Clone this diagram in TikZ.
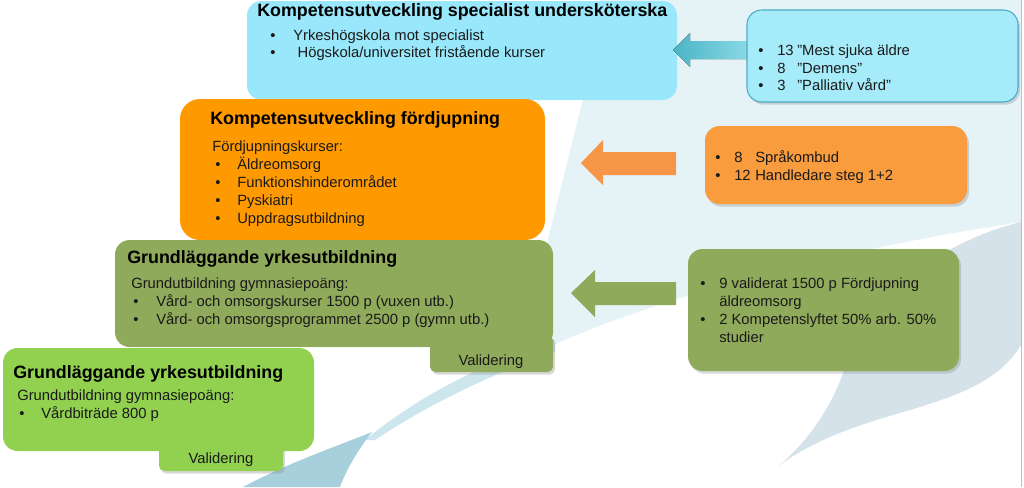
\documentclass[tikz,border=0pt]{standalone}
\usepackage{fontspec}
\setmainfont{Liberation Sans}
\usetikzlibrary{shadows}
\definecolor{specblue}{RGB}{153, 231, 250}
\definecolor{specside}{RGB}{165, 235, 250}
\definecolor{specline}{RGB}{75, 172, 198}
\definecolor{arrowdark}{RGB}{75, 180, 196}
\definecolor{arrowlight}{RGB}{140, 218, 230}
\definecolor{fdorange}{RGB}{255, 153, 0}
\definecolor{fdarrow}{RGB}{247, 150, 70}
\definecolor{fdside}{RGB}{248, 156, 62}
\definecolor{gyolive}{RGB}{143, 170, 90}
\definecolor{gbgreen}{RGB}{146, 208, 80}
\definecolor{bgpale}{RGB}{229, 242, 246}
\definecolor{bgdark}{RGB}{213, 226, 233}
\definecolor{bgband}{RGB}{205, 230, 238}
\definecolor{bgswoosh}{RGB}{168, 208, 220}
\definecolor{textdark}{RGB}{26, 26, 26}
\tikzset{box/.style = {rounded corners = 11pt, inner sep = 0}}
\tikzset{sidebox/.style = {box, drop shadow = {opacity = 0.3, shadow xshift = 1.5pt, shadow yshift = -2pt}}}
\tikzset{tab/.style = {rounded corners = 4pt, inner sep = 0, drop shadow = {opacity = 0.3, shadow xshift = 1.5pt, shadow yshift = -2pt}}}
\tikzset{title/.style = {anchor = base west, inner sep = 0, text = black, font = \bfseries\fontsize{13.4}{16}\selectfont}}
\tikzset{body/.style = {anchor = base west, inner sep = 0, text = textdark, font = \fontsize{11.1}{13.5}\selectfont}}
\newcommand{\itm}[2][17pt]{\makebox[#1][l]{\textbullet}#2}

\begin{document}
\begin{tikzpicture}[x = 0.75pt, y = -0.75pt]
    \useasboundingbox (0, 0) rectangle (1024, 487);
    \fill [white] (0, 0) rectangle (1024, 487);

    % background
    \fill [bgpale] (600, 0) -- (1021, 0) -- (1021, 222) .. controls (900, 240) and (700, 280) .. (553, 345) -- (548, 240) -- (584, 95) -- cycle;
    \fill [bgdark] (1021, 222) .. controls (930, 245) and (870, 300) .. (843, 373) .. controls (830, 410) and (805, 445) .. (777, 467) .. controls (820, 435) and (870, 422) .. (910, 410) .. controls (960, 395) and (1000, 380) .. (1021, 345) -- cycle;
    \fill [bgband] (365, 440) .. controls (420, 395) and (480, 365) .. (555, 340) -- (555, 352) .. controls (480, 378) and (420, 410) .. (375, 440) -- cycle;
    \fill [bgswoosh] (243, 487) .. controls (290, 462) and (340, 445) .. (372, 432) .. controls (358, 450) and (346, 470) .. (340, 487) -- cycle;
    \draw [gray!50] (1021, 0) -- (1021, 487);

    \node [box, fill = specblue, minimum width = 322.5pt, minimum height = 74.25pt] (spec) at (462, 50.5) {};
    \fill [left color = arrowdark, right color = arrowlight] (673, 50) -- (690, 33) -- (690, 41) -- (750, 41) -- (750, 59) -- (690, 59) -- (690, 67) -- cycle;
    \node [sidebox, fill = specside, draw = specline, line width = 0.8pt, minimum width = 203.25pt, minimum height = 69pt] (specr) at (882.5, 56) {};

    \node [box, rounded corners = 15pt, fill = fdorange, minimum width = 273.75pt, minimum height = 105.75pt] (fd) at (362.5, 169.5) {};
    \fill [fdarrow] (581, 163) -- (603, 140) -- (603, 152) -- (676, 152) -- (676, 175) -- (603, 175) -- (603, 185) -- cycle;
    \node [sidebox, fill = fdside, minimum width = 196.5pt, minimum height = 58.5pt] (fdr) at (836, 165) {};

    \node [tab, fill = gyolive, minimum width = 92.25pt, minimum height = 27.75pt] (gytab) at (491.5, 353.5) {};
    \node [box, fill = gyolive, minimum width = 328.5pt, minimum height = 80.25pt] (gy) at (334, 293.5) {};
    \fill [gyolive] (571, 293) -- (595, 270) -- (595, 282) -- (676, 282) -- (676, 305) -- (595, 305) -- (595, 317) -- cycle;
    \node [sidebox, fill = gyolive, minimum width = 203.25pt, minimum height = 91.5pt] (gyr) at (823.5, 310) {};

    \node [tab, fill = gbgreen, minimum width = 93pt, minimum height = 23.25pt] (gbtab) at (221, 455.5) {};
    \node [box, fill = gbgreen, minimum width = 233.25pt, minimum height = 77.25pt] (gb) at (158.5, 399.5) {};

    % texts
    \node [title] (spec-t) at (257, 16) {Kompetensutveckling specialist undersköterska};
    \node [body] (spec-1) at (270, 40) {\itm[17.25pt]{Yrkeshögskola mot specialist}};
    \node [body] (spec-2) at (270, 57) {\itm[20.5pt]{Högskola/universitet fristående kurser}};

    \node [body] (specr-1) at (758, 55) {\itm[14.25pt]{\makebox[15pt][l]{13}”Mest sjuka äldre}};
    \node [body] (specr-2) at (758, 73) {\itm[14.25pt]{\makebox[15pt][l]{8}”Demens”}};
    \node [body] (specr-3) at (758, 90) {\itm[14.25pt]{\makebox[15pt][l]{3}”Palliativ vård”}};

    \node [title] (fd-t) at (210, 124) {Kompetensutveckling fördjupning};
    \node [body] (fd-s) at (212, 151) {Fördjupningskurser:};
    \node [body] (fd-1) at (215, 169) {\itm[16.5pt]{Äldreomsorg}};
    \node [body] (fd-2) at (215, 187) {\itm[16.5pt]{Funktionshinderområdet}};
    \node [body] (fd-3) at (215, 205) {\itm[16.5pt]{Pyskiatri}};
    \node [body] (fd-4) at (215, 223) {\itm[16.5pt]{Uppdragsutbildning}};

    \node [body] (fdr-1) at (715, 162) {\itm[14.25pt]{\makebox[15.75pt][l]{8}Språkombud}};
    \node [body] (fdr-2) at (715, 180) {\itm[14.25pt]{\makebox[15.75pt][l]{12}Handledare steg 1+2}};

    \node [title] (gy-t) at (127, 263) {Grundläggande yrkesutbildning};
    \node [body] (gy-s) at (131, 288) {Grundutbildning gymnasiepoäng:};
    \node [body] (gy-1) at (133, 306) {\itm[17.25pt]{Vård- och omsorgskurser 1500 p (vuxen utb.)}};
    \node [body] (gy-2) at (133, 324) {\itm[17.25pt]{Vård- och omsorgsprogrammet 2500 p (gymn utb.)}};
    \node [body, anchor = base] (gytab-t) at (491, 365) {Validering};

    \node [body] (gyr-1) at (700, 288) {\itm[14.25pt]{9 validerat 1500 p Fördjupning}};
    \node [body] (gyr-2) at (719, 306) {äldreomsorg};
    \node [body] (gyr-3) at (700, 324) {\itm[14.25pt]{2 Kompetenslyftet 50\% arb. 50\%}};
    \node [body] (gyr-4) at (719, 342) {studier};

    \node [title] (gb-t) at (13, 378) {Grundläggande yrkesutbildning};
    \node [body] (gb-s) at (17, 400) {Grundutbildning gymnasiepoäng:};
    \node [body] (gb-1) at (19, 418) {\itm[16.5pt]{Vårdbiträde 800 p}};
    \node [body, anchor = base] (gbtab-t) at (221, 463) {Validering};
\end{tikzpicture}
\end{document}
